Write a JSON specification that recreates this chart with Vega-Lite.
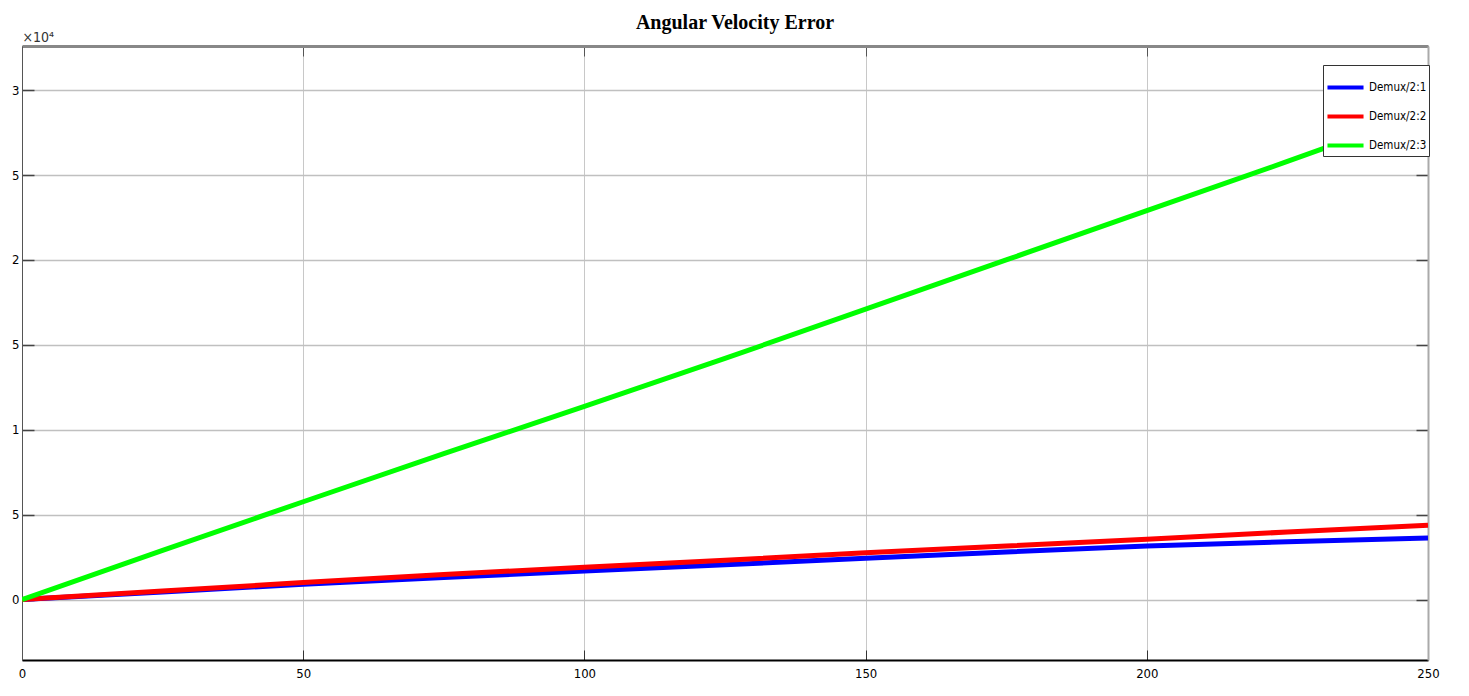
{
  "$schema": "https://vega.github.io/schema/vega-lite/v6.json",
  "autosize": {"type": "none"},
  "width": 1406,
  "height": 614,
  "padding": {"left": 22, "top": 46, "right": 41, "bottom": 36},
  "background": "white",
  "title": {
    "text": "Angular Velocity Error",
    "font": "Liberation Serif",
    "fontSize": 20,
    "fontWeight": "bold",
    "color": "#000000",
    "offset": -3,
    "dx": 10
  },
  "data": {
    "values": [
      {"t": 0, "value": 0, "series": "Demux/2:1"},
      {"t": 25, "value": 0.045, "series": "Demux/2:1"},
      {"t": 50, "value": 0.09, "series": "Demux/2:1"},
      {"t": 75, "value": 0.13, "series": "Demux/2:1"},
      {"t": 100, "value": 0.168, "series": "Demux/2:1"},
      {"t": 125, "value": 0.205, "series": "Demux/2:1"},
      {"t": 150, "value": 0.243, "series": "Demux/2:1"},
      {"t": 175, "value": 0.28, "series": "Demux/2:1"},
      {"t": 200, "value": 0.315, "series": "Demux/2:1"},
      {"t": 225, "value": 0.34, "series": "Demux/2:1"},
      {"t": 250, "value": 0.363, "series": "Demux/2:1"},
      {"t": 0, "value": 0, "series": "Demux/2:2"},
      {"t": 25, "value": 0.05, "series": "Demux/2:2"},
      {"t": 50, "value": 0.1, "series": "Demux/2:2"},
      {"t": 75, "value": 0.148, "series": "Demux/2:2"},
      {"t": 100, "value": 0.19, "series": "Demux/2:2"},
      {"t": 125, "value": 0.232, "series": "Demux/2:2"},
      {"t": 150, "value": 0.275, "series": "Demux/2:2"},
      {"t": 175, "value": 0.315, "series": "Demux/2:2"},
      {"t": 200, "value": 0.355, "series": "Demux/2:2"},
      {"t": 225, "value": 0.398, "series": "Demux/2:2"},
      {"t": 250, "value": 0.437, "series": "Demux/2:2"},
      {"t": 0, "value": 0, "series": "Demux/2:3"},
      {"t": 25, "value": 0.29, "series": "Demux/2:3"},
      {"t": 50, "value": 0.576, "series": "Demux/2:3"},
      {"t": 75, "value": 0.86, "series": "Demux/2:3"},
      {"t": 100, "value": 1.137, "series": "Demux/2:3"},
      {"t": 125, "value": 1.42, "series": "Demux/2:3"},
      {"t": 150, "value": 1.71, "series": "Demux/2:3"},
      {"t": 175, "value": 2.0, "series": "Demux/2:3"},
      {"t": 200, "value": 2.29, "series": "Demux/2:3"},
      {"t": 225, "value": 2.58, "series": "Demux/2:3"},
      {"t": 250, "value": 2.876, "series": "Demux/2:3"}
    ]
  },
  "resolve": {"axis": {"x": "independent", "y": "independent"}},
  "layer": [
    {
      "mark": {"type": "line", "strokeWidth": 5, "clip": true},
      "encoding": {
        "x": {
          "field": "t", "type": "quantitative",
          "scale": {"domain": [0, 250], "nice": false, "zero": false},
          "axis": {
            "values": [0, 50, 100, 150, 200, 250],
            "title": null,
            "grid": true, "gridColor": "#c8c8c8", "gridWidth": 1,
            "domainColor": "#000000", "domainWidth": 2,
            "tickSize": -10, "tickColor": "#333333",
            "labelPadding": 17,
            "labelFont": "DejaVu Sans Condensed, Liberation Sans, sans-serif", "labelFontSize": 13, "labelColor": "#000000",
            "labelFlush": false
          }
        },
        "y": {
          "field": "value", "type": "quantitative",
          "scale": {"domain": [-0.356, 3.26], "nice": false, "zero": false},
          "axis": {
            "values": [0, 0.5, 1, 1.5, 2, 2.5, 3],
            "labelExpr": "datum.value % 1 == 0 ? format(datum.value, 'd') : '5'",
            "title": "×10⁴",
            "titleAngle": 0, "titleX": 0, "titleY": -2,
            "titleAlign": "left", "titleBaseline": "bottom",
            "titleFont": "DejaVu Sans Condensed, Liberation Sans, sans-serif", "titleFontSize": 14, "titleFontWeight": "normal", "titleColor": "#333333",
            "grid": true, "gridColor": "#c0c0c0", "gridWidth": 1.5,
            "domainColor": "#555555", "domainWidth": 1,
            "tickSize": -12, "tickColor": "#444444", "tickWidth": 1.5,
            "labelPadding": 15,
            "labelFont": "DejaVu Sans Condensed, Liberation Sans, sans-serif", "labelFontSize": 13, "labelColor": "#000000",
            "labelFlush": false
          }
        },
        "color": {
          "field": "series", "type": "nominal",
          "scale": {"domain": ["Demux/2:1", "Demux/2:2", "Demux/2:3"], "range": ["#0000ff", "#ff0000", "#00ff00"]},
          "legend": {
            "title": null,
            "orient": "none",
            "legendX": 1301,
            "legendY": 19,
            "symbolType": "stroke",
            "symbolStrokeWidth": 4,
            "symbolSize": 1300,
            "labelFont": "DejaVu Sans Condensed, Liberation Sans, sans-serif",
            "labelFontSize": 11.5,
            "labelOffset": 3,
            "labelColor": "#000000",
            "rowPadding": -15,
            "padding": 2,
            "strokeColor": "#333333",
            "fillColor": "#ffffff"
          }
        }
      }
    },
    {
      "mark": {"type": "line", "opacity": 0},
      "encoding": {
        "x": {
          "field": "t", "type": "quantitative",
          "scale": {"domain": [0, 250], "nice": false, "zero": false},
          "axis": {"orient": "top", "values": [0, 50, 100, 150, 200, 250], "labels": false, "title": null, "grid": false, "domainColor": "#888888", "domainWidth": 3, "tickSize": -10, "tickColor": "#555555"}
        },
        "y": {
          "field": "value", "type": "quantitative",
          "scale": {"domain": [-0.356, 3.26], "nice": false, "zero": false},
          "axis": {"orient": "right", "values": [0, 0.5, 1, 1.5, 2, 2.5, 3], "labels": false, "title": null, "grid": false, "domainColor": "#aaaaaa", "domainWidth": 2, "tickSize": -12, "tickColor": "#444444", "tickWidth": 1.5}
        },
        "detail": {"field": "series", "type": "nominal"}
      }
    }
  ],
  "config": {"view": {"stroke": null}}
}
